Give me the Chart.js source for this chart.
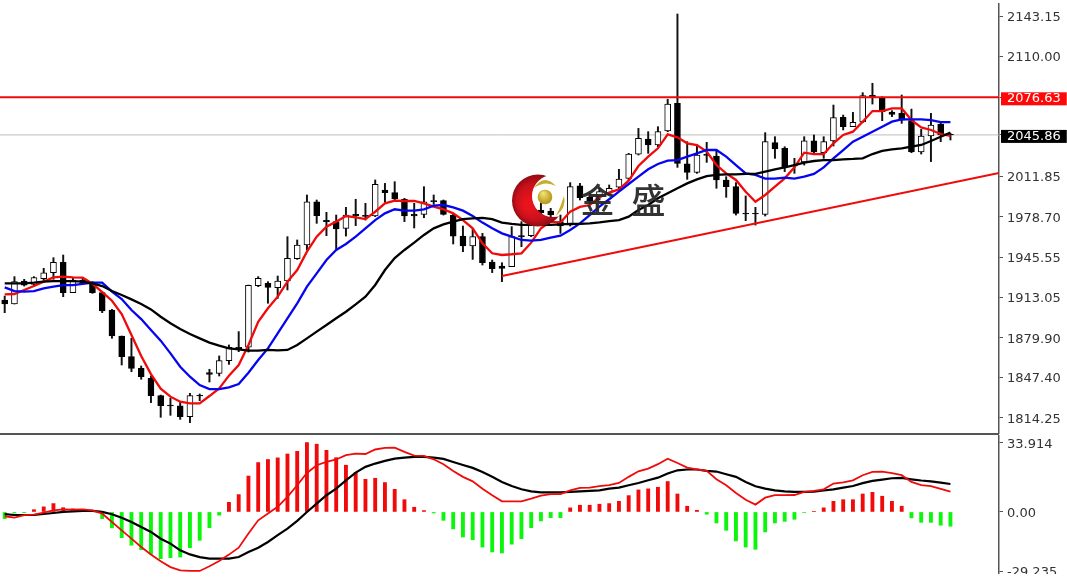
<!DOCTYPE html>
<html><head><meta charset="utf-8">
<style>
html,body{margin:0;padding:0;background:#fff;overflow:hidden}
canvas{position:absolute;left:0;display:block}
#main{top:0}
#macd{top:435px}
#sep{position:absolute;left:0;top:433px;width:999px;height:2px;background:#555}
</style>
<script src="https://cdn.jsdelivr.net/npm/chart.js@4"></script>
</head><body>
<canvas id="main" width="1067" height="434"></canvas>
<div id="sep"></div>
<canvas id="macd" width="1067" height="139"></canvas>
<script>
const opens=[1910.8,1907.5,1926.3,1923.6,1928.2,1933.1,1941.6,1916.8,1927.1,1924.4,1916.8,1902.6,1881.3,1864.4,1854.9,1846.7,1832.5,1824.1,1824.1,1815.3,1832.2,1849.9,1850.8,1861.2,1871.0,1872.1,1922.5,1924.4,1920.9,1926.3,1944.6,1955.8,1991.2,1974.9,1974.9,1969.4,1979.8,1979.2,1979.5,2000.8,1998.6,1993.2,1979.5,1980.9,1991.2,1992.1,1980.3,1963.1,1955.0,1962.6,1941.9,1936.7,1938.1,1962.3,1963.4,1984.4,1983.6,1974.9,1972.1,2004.1,1994.8,1995.3,1998.1,2003.0,2010.3,2030.2,2042.5,2037.6,2049.1,2071.7,2022.1,2015.2,2029.1,2028.6,2009.0,2003.5,1981.2,1981.2,1980.9,2039.5,2034.9,2020.4,2023.7,2041.1,2031.3,2040.9,2060.2,2052.6,2056.4,2077.1,2075.8,2064.6,2063.5,2057.5,2031.9,2045.0,2054.8,2046.4];
const highs=[1914.0,1929.9,1927.7,1929.9,1936.7,1945.4,1947.6,1928.5,1928.5,1925.8,1917.6,1903.2,1881.3,1879.4,1856.8,1848.6,1833.0,1830.3,1827.6,1834.4,1833.9,1854.1,1865.0,1874.0,1884.9,1923.0,1929.9,1925.8,1930.4,1962.6,1959.9,1996.7,1992.6,1982.5,1980.3,1986.6,1993.2,1989.9,2009.0,2006.2,2007.6,1994.0,1989.9,2003.5,1996.7,1992.6,1981.7,1971.3,1969.4,1965.3,1943.5,1941.3,1970.8,1974.9,1983.1,1989.9,1985.8,1980.3,2006.8,2006.2,1998.1,2002.2,2004.9,2017.7,2030.8,2051.2,2048.5,2052.6,2075.0,2144.8,2040.3,2037.6,2039.8,2033.5,2011.7,2006.8,1995.9,1986.6,2047.7,2044.4,2036.2,2026.7,2044.4,2045.8,2044.4,2070.3,2062.1,2064.3,2080.4,2088.1,2077.1,2065.7,2078.5,2067.0,2050.4,2063.5,2056.7,2047.2];
const lows=[1900.4,1907.5,1922.2,1922.2,1926.6,1927.7,1913.5,1916.8,1923.6,1916.2,1900.4,1879.4,1857.6,1852.1,1845.9,1826.8,1814.8,1816.4,1813.1,1810.4,1828.4,1843.7,1848.6,1858.1,1868.5,1868.2,1921.7,1908.1,1912.1,1919.0,1944.0,1951.7,1973.5,1963.4,1952.2,1963.1,1971.6,1976.2,1979.0,1990.7,1992.6,1974.9,1969.7,1978.1,1989.0,1980.3,1956.6,1950.3,1944.0,1939.4,1933.2,1925.8,1938.1,1954.4,1962.6,1972.1,1976.2,1965.3,1971.3,1992.6,1989.9,1992.6,1996.7,2000.8,2009.0,2029.4,2030.8,2036.2,2048.5,2019.3,2009.5,2014.4,2023.4,2002.2,1994.8,1980.3,1975.7,1972.1,1979.5,2026.7,2015.8,2014.4,2021.2,2030.2,2026.7,2036.8,2049.9,2052.6,2055.9,2071.1,2057.5,2060.8,2055.3,2031.3,2030.2,2024.0,2040.3,2041.7];
const closes=[1907.5,1925.8,1923.0,1929.1,1933.1,1941.6,1916.8,1927.1,1924.4,1916.8,1901.8,1881.3,1864.4,1854.9,1848.0,1832.5,1824.3,1824.9,1815.3,1832.5,1832.8,1851.3,1861.2,1872.1,1872.1,1922.8,1928.5,1921.1,1926.3,1944.9,1955.8,1991.2,1979.8,1976.0,1968.9,1980.3,1980.9,1980.0,2005.4,1998.6,1993.4,1979.5,1980.9,1991.2,1992.1,1980.9,1963.1,1955.0,1962.6,1941.3,1936.4,1938.6,1962.6,1963.4,1972.1,1982.2,1980.3,1971.3,2003.5,1994.5,1992.1,1999.4,2002.2,2009.8,2030.2,2043.1,2037.6,2048.5,2071.1,2022.6,2015.2,2029.4,2030.0,2009.0,2003.5,1981.7,1981.7,1981.7,2040.3,2034.3,2019.3,2021.2,2041.1,2031.9,2040.3,2060.0,2052.6,2056.1,2078.0,2078.2,2064.9,2062.7,2058.0,2031.9,2045.0,2054.0,2045.8,2045.86];
const maFast=[1915.4,1915.7,1919.0,1922.2,1925.8,1929.3,1929.9,1929.3,1929.1,1924.1,1917.3,1910.2,1899.3,1882.1,1864.9,1850.2,1838.2,1831.7,1827.6,1826.2,1826.2,1832.2,1838.5,1848.9,1857.6,1874.0,1893.0,1904.0,1913.5,1925.8,1935.3,1950.3,1962.6,1970.8,1974.9,1979.5,1978.4,1977.0,1983.0,1989.9,1992.1,1991.8,1991.8,1989.9,1987.2,1985.0,1981.7,1976.2,1969.4,1957.1,1949.0,1947.6,1948.2,1949.0,1957.7,1969.4,1974.9,1974.1,1983.1,1986.9,1988.5,1994.8,1998.6,2001.3,2008.4,2020.4,2028.1,2034.9,2046.3,2043.9,2039.0,2037.6,2032.2,2021.2,2014.4,2009.0,1999.4,1991.2,1996.7,2003.5,2010.3,2019.3,2031.3,2030.2,2030.2,2039.0,2045.8,2048.5,2056.7,2065.4,2065.4,2067.6,2067.6,2058.0,2052.0,2049.9,2046.6,2045.0];
const maMid=[1921.1,1918.1,1917.6,1918.1,1920.3,1921.7,1923.0,1923.0,1923.9,1925.0,1925.0,1917.6,1911.6,1902.6,1895.2,1886.2,1877.5,1867.1,1856.2,1848.0,1841.2,1837.9,1837.9,1839.3,1842.0,1851.3,1861.7,1871.2,1883.5,1895.8,1908.1,1921.7,1932.6,1943.5,1951.7,1956.6,1962.6,1969.4,1976.2,1981.7,1985.0,1983.9,1983.9,1985.0,1988.0,1988.5,1986.6,1983.9,1979.5,1974.1,1969.4,1965.3,1962.6,1959.9,1959.3,1959.9,1961.8,1963.4,1968.0,1973.5,1980.3,1987.2,1993.2,1999.4,2005.7,2011.7,2017.7,2022.1,2024.8,2025.3,2028.1,2030.8,2033.5,2033.5,2028.1,2021.2,2014.4,2013.1,2010.1,2010.1,2010.9,2010.1,2011.7,2013.9,2019.3,2026.7,2033.5,2040.3,2044.4,2048.5,2052.6,2056.7,2058.6,2058.6,2058.6,2058.0,2056.4,2056.4];
const maSlow=[1924.4,1924.4,1924.4,1925.0,1925.8,1926.3,1926.3,1926.3,1925.8,1924.4,1922.2,1918.1,1914.9,1911.3,1907.5,1903.1,1897.1,1891.7,1887.1,1883.0,1879.4,1875.9,1873.4,1871.2,1870.4,1869.3,1869.3,1869.9,1869.6,1869.9,1874.0,1879.4,1884.9,1890.3,1895.8,1901.2,1907.2,1913.5,1923.1,1935.3,1945.1,1951.7,1957.7,1964.0,1969.4,1972.7,1974.9,1977.0,1977.6,1977.9,1977.0,1974.1,1973.0,1972.2,1972.2,1972.2,1972.2,1972.7,1973.0,1973.0,1973.5,1974.3,1975.4,1976.2,1979.0,1984.4,1988.5,1994.0,1998.1,2002.2,2006.2,2009.5,2012.2,2013.1,2013.6,2013.6,2013.9,2013.9,2015.8,2017.7,2019.3,2021.2,2023.2,2024.5,2025.3,2025.3,2025.9,2026.2,2026.7,2030.2,2032.7,2034.1,2034.9,2036.2,2037.6,2040.9,2044.4,2047.7];
const macdHist=[-3.3,-0.5,-0.4,1.1,2.5,4.1,2.1,1.5,1.3,0.3,-3.3,-7.8,-12.6,-16.3,-18.5,-20.8,-22.9,-22.4,-22.1,-17.5,-13.9,-7.7,-1.6,4.7,8.5,17.6,24.2,25.7,26.5,28.4,29.7,34.0,33.2,30.2,26.6,22.9,19.3,16.0,16.5,14.4,11.1,6.0,2.3,0.65,-0.5,-4.1,-8.3,-12.3,-13.6,-17.2,-19.6,-20.1,-15.8,-13.1,-7.7,-4.4,-2.8,-2.8,2.0,3.3,3.3,3.8,4.1,5.2,8.0,10.8,11.3,12.1,14.9,8.8,2.8,0.8,-1.1,-5.4,-9.0,-14.2,-17.2,-18.3,-9.8,-5.4,-4.6,-3.6,-0.3,0.3,2.0,5.2,6.0,6.0,8.8,9.6,7.7,5.2,2.8,-2.9,-5.1,-5.1,-6.5,-7.0];
const macdFast=[-2.1,-2.8,-1.6,-1.3,-0.3,0.8,1.3,1.1,1.3,0.8,-0.8,-4.9,-9.0,-13.1,-17.2,-20.8,-24.2,-27.0,-28.6,-28.9,-28.9,-26.6,-24.0,-20.9,-17.5,-10.6,-4.1,-0.8,2.5,7.4,13.1,19.1,22.9,24.5,25.7,27.8,28.6,28.4,30.6,31.4,31.5,29.4,27.6,27.5,25.8,23.4,20.1,17.2,15.0,11.4,8.2,5.2,5.2,5.2,6.5,8.0,8.7,8.7,10.6,11.8,11.9,12.7,13.1,14.2,17.2,19.9,21.2,23.4,26.1,24.0,21.7,20.8,20.1,16.0,13.1,9.3,6.0,3.6,7.0,8.2,8.2,8.3,9.8,10.3,11.1,13.9,14.5,15.5,18.0,19.6,19.8,19.0,18.0,14.7,13.1,12.7,11.3,10.0];
const macdSlow=[-1.1,-1.5,-1.5,-1.5,-1.0,-0.5,0,0.3,0.5,0.5,0,-1.1,-2.8,-4.9,-7.4,-9.8,-13.1,-15.5,-18.8,-20.8,-22.1,-22.9,-22.9,-22.9,-22.1,-19.6,-17.5,-14.7,-11.4,-8.2,-4.4,0,4.1,8.2,11.4,15.5,19.3,22.1,23.7,25.0,26.1,26.6,27.0,27.0,26.6,26.0,24.5,23.0,21.6,19.6,17.2,14.7,12.7,11.1,10.1,9.6,9.6,9.6,9.8,10.1,10.3,10.6,11.4,11.9,13.1,14.2,15.5,16.8,18.8,20.4,20.8,20.8,20.1,19.8,18.5,17.2,14.7,12.6,11.4,10.6,10.1,9.8,9.8,10.0,10.5,11.1,11.9,12.7,14.1,15.2,15.8,16.5,16.7,16.0,15.4,15.0,14.4,13.7];
const priceTicks=[2143.15,2110.00,2076.63,2045.86,2011.85,1978.70,1945.55,1913.05,1879.90,1847.40,1814.25];
const macdTicks=[33.914,0,-29.235];
const resistance=2076.63, lastPrice=2045.86;
const trendStart=51, trendPrices=[1930.4,2014.7];
const logoText=['金','盛'];

const RED='#f00a0a', BLUE='#0505f0', BLACK='#000', AXIS='#555', LABEL='#333';
const xMin=-0.482, xMax=101.98;
const idx=a=>a.map((v,i)=>({x:i,y:v}));
const lineDs=(data,color,width,order)=>({type:'line',data,borderColor:color,borderWidth:width,pointRadius:0,tension:0,order});
const xAxis=()=>({type:'linear',min:xMin,max:xMax,offset:false,display:false});
const yAxis=(min,max,list,fix)=>({position:'right',min,max,
  grid:{drawOnChartArea:false,color:AXIS,tickLength:4,tickWidth:1},
  border:{color:AXIS,width:1.5},
  afterBuildTicks(s){s.ticks=list.map(v=>({value:v}));},
  afterFit(s){s.width=68;s.paddingTop=0;s.paddingBottom=0;},
  ticks:{autoSkip:false,padding:4,labelOffset:1.5,font:{family:'"DejaVu Sans"',size:13,lineHeight:1},
    callback:fix,
    color:c=>(c.tick&&(c.tick.value===resistance||c.tick.value===lastPrice))?'#fff':LABEL,
    showLabelBackdrop:c=>!!c.tick&&(c.tick.value===resistance||c.tick.value===lastPrice),
    backdropColor:c=>c.tick&&c.tick.value===resistance?'#ff0808':'#000',
    backdropPadding:{left:6,right:6,top:0,bottom:0}}
});

const logoPlugin={id:'logo',afterDatasetsDraw(chart){
  const c=chart.ctx;
  c.save();
  const g=c.createRadialGradient(528,205,4,538,200,27);
  g.addColorStop(0,'#e8141c');g.addColorStop(.6,'#c8101c');g.addColorStop(1,'#8a0a10');
  c.beginPath();c.rect(500,160,90,80);c.arc(553,196,21,0,Math.PI*2);c.clip('evenodd');
  c.fillStyle=g;c.beginPath();c.arc(538,200.5,26,0,Math.PI*2);c.fill();
  c.restore();
  c.save();
  const b=c.createRadialGradient(543,193,1,545,197,8);
  b.addColorStop(0,'#f0e070');b.addColorStop(1,'#b09010');
  c.fillStyle=b;c.beginPath();c.arc(545,197,7.3,0,Math.PI*2);c.fill();
  c.fillStyle='#c8ac30';
  c.beginPath();c.moveTo(534,188);c.quadraticCurveTo(544,173,556,186);c.quadraticCurveTo(545,180,534,188);c.fill();
  c.beginPath();c.moveTo(564,196);c.quadraticCurveTo(567,207,556,216);c.quadraticCurveTo(561,206,564,196);c.fill();
  c.fillStyle='rgba(40,40,40,.95)';c.textBaseline='middle';c.textAlign='center';
  c.font='500 34px "Noto Sans CJK SC"';
  c.fillText(logoText[0],597.5,200);c.fillText(logoText[1],648.5,200);
  c.restore();
}};

new Chart(document.getElementById('main'),{
  type:'bar',
  plugins:[logoPlugin],
  data:{datasets:[
    lineDs(idx(maSlow),BLACK,2.3,1),
    lineDs(idx(maMid),BLUE,2.3,1),
    lineDs(idx(maFast),RED,2.3,1),
    lineDs([{x:xMin,y:resistance},{x:xMax,y:resistance}],RED,2,1),
    lineDs([{x:xMin,y:lastPrice},{x:xMax,y:lastPrice}],'#bdbdbd',1,5),
    lineDs([{x:trendStart,y:trendPrices[0]},{x:xMax,y:trendPrices[1]}],RED,2,1),
    {type:'bar',grouped:false,order:2,barThickness:6,borderWidth:1,borderSkipped:false,borderColor:'#000',
      backgroundColor:closes.map((v,i)=>v>opens[i]+2?'#fff':'#000'),
      data:opens.map((o,i)=>({x:i,y:[o,closes[i]]}))},
    {type:'bar',grouped:false,order:3,barThickness:1.3,backgroundColor:'#111',
      data:highs.map((h,i)=>({x:i,y:[lows[i],h]}))}
  ]},
  options:{responsive:false,animation:false,layout:{padding:{top:4,left:0,right:0,bottom:0}},
    plugins:{legend:{display:false},tooltip:{enabled:false},title:{display:false}},
    scales:{x:xAxis(),y:yAxis(1801.14,2152.97,priceTicks,v=>v.toFixed(2))}}
});

new Chart(document.getElementById('macd'),{
  type:'bar',
  data:{datasets:[
    lineDs(idx(macdSlow),BLACK,2.2,1),
    lineDs(idx(macdFast),RED,1.8,0),
    {type:'bar',grouped:false,order:2,barThickness:3.2,
      backgroundColor:macdHist.map(v=>v>=0?'#f00a0a':'#0cf50c'),
      data:idx(macdHist)}
  ]},
  options:{responsive:false,animation:false,layout:{padding:0},
    plugins:{legend:{display:false},tooltip:{enabled:false},title:{display:false}},
    scales:{x:xAxis(),y:yAxis(-30.4,37.7,macdTicks,v=>v===0?'0.00':String(v))}}
});
</script>
</body></html>
